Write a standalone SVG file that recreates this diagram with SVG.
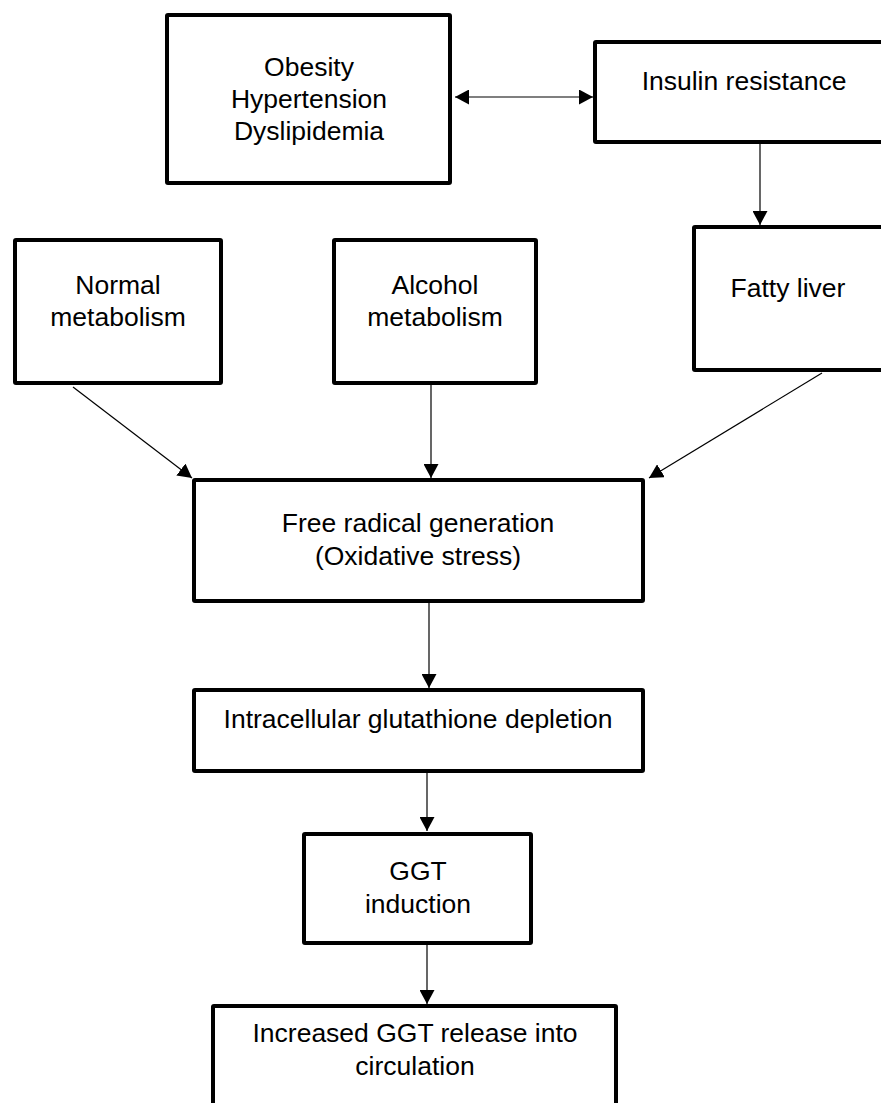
<svg xmlns="http://www.w3.org/2000/svg" width="881" height="1103" viewBox="0 0 881 1103">
<style>
.box{fill:#fff;stroke:#000;stroke-width:4;stroke-linejoin:round}
.t{font-family:"Liberation Sans",Arial,sans-serif;font-size:26.5px;fill:#000;text-anchor:middle}
.c{stroke:#000;stroke-width:1.2;fill:none}
</style>
<defs>
<marker id="ah" markerUnits="userSpaceOnUse" markerWidth="14" markerHeight="15" refX="14" refY="7.5" orient="auto-start-reverse" viewBox="0 0 14 15">
<path d="M0,0 L14,7.5 L0,15 z" fill="#000"/>
</marker>
</defs>
<rect width="881" height="1103" fill="#fff"/>
<g id="connectors">
<line class="c" x1="455" y1="97" x2="593" y2="97" marker-start="url(#ah)" marker-end="url(#ah)"/>
<line class="c" x1="760" y1="144" x2="760" y2="225" marker-end="url(#ah)"/>
<line class="c" x1="73" y1="387" x2="192" y2="478" marker-end="url(#ah)"/>
<line class="c" x1="431" y1="385" x2="431" y2="478" marker-end="url(#ah)"/>
<line class="c" x1="822" y1="373" x2="649" y2="478" marker-end="url(#ah)"/>
<line class="c" x1="429" y1="603" x2="429" y2="688" marker-end="url(#ah)"/>
<line class="c" x1="427" y1="773" x2="427" y2="831" marker-end="url(#ah)"/>
<line class="c" x1="427" y1="945" x2="427" y2="1004" marker-end="url(#ah)"/>
</g>
<g id="obesity">
<rect class="box" x="167" y="15" width="283" height="168" rx="1"/>
<text class="t" x="309" y="76">Obesity</text>
<text class="t" x="309" y="108">Hypertension</text>
<text class="t" x="309" y="140">Dyslipidemia</text>
</g>
<g id="insulin">
<rect class="box" x="595" y="42" width="300" height="100" rx="1"/>
<text class="t" x="744" y="90">Insulin resistance</text>
</g>
<g id="fatty">
<rect class="box" x="694" y="227" width="200" height="143" rx="1"/>
<text class="t" x="788" y="297">Fatty liver</text>
</g>
<g id="normal">
<rect class="box" x="15" y="240" width="206" height="143" rx="1"/>
<text class="t" x="118" y="294">Normal</text>
<text class="t" x="118" y="326">metabolism</text>
</g>
<g id="alcohol">
<rect class="box" x="334" y="240" width="202" height="143" rx="1"/>
<text class="t" x="435" y="294">Alcohol</text>
<text class="t" x="435" y="326">metabolism</text>
</g>
<g id="freeradical">
<rect class="box" x="194" y="480" width="449" height="121" rx="1"/>
<text class="t" x="418" y="532">Free radical generation</text>
<text class="t" x="418" y="565">(Oxidative stress)</text>
</g>
<g id="glutathione">
<rect class="box" x="194" y="690" width="449" height="81" rx="1"/>
<text class="t" x="418" y="728">Intracellular glutathione depletion</text>
</g>
<g id="ggt">
<rect class="box" x="304" y="834" width="227" height="109" rx="1"/>
<text class="t" x="418" y="880">GGT</text>
<text class="t" x="418" y="913">induction</text>
</g>
<g id="release">
<rect class="box" x="213" y="1006" width="403" height="120" rx="1"/>
<text class="t" x="415" y="1042">Increased GGT release into</text>
<text class="t" x="415" y="1075">circulation</text>
</g>
</svg>
